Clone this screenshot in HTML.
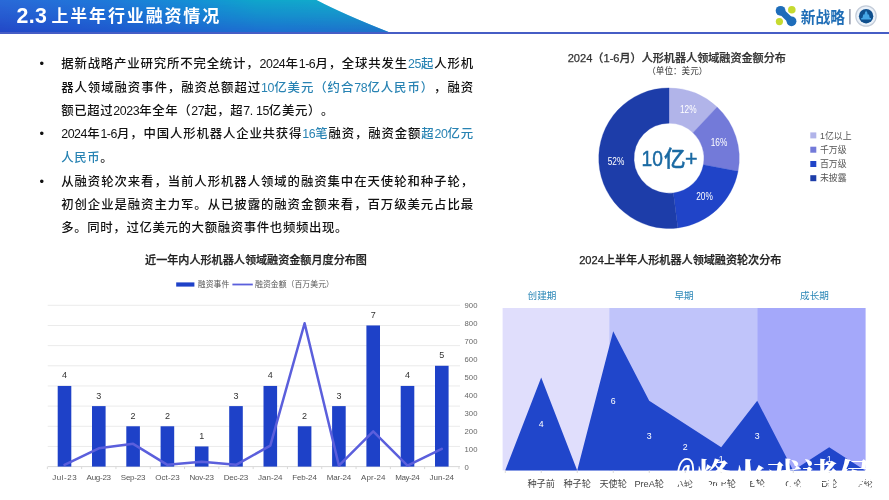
<!DOCTYPE html>
<html lang="zh-CN">
<head>
<meta charset="utf-8">
<title>2.3 上半年行业融资情况</title>
<style>
html,body{margin:0;padding:0;}
body{width:889px;height:500px;position:relative;overflow:hidden;background:#fff;
  font-family:"Liberation Sans","Noto Sans CJK SC",sans-serif;color:#111;}
.abs{position:absolute;}
#banner{left:0;top:0;width:394px;height:33px;
  background:linear-gradient(to right,#2a6ad8 0%,#2078da 25%,#1492d6 50%,#10a6cc 65%,#14aecc 100%);
  clip-path:path("M0 0H316.6Q343 14 391 33H0Z");}
#banner2{left:0;top:0;width:394px;height:33px;
  background:linear-gradient(to right,#2246c6 0%,#2052cc 20%,#1e64d0 50%,#1c6ed0 70%,#1e70c8 100%);
  -webkit-mask-image:linear-gradient(to bottom,rgba(0,0,0,0) 0%,rgba(0,0,0,0.45) 50%,rgba(0,0,0,1) 100%);
  mask-image:linear-gradient(to bottom,rgba(0,0,0,0) 0%,rgba(0,0,0,0.45) 50%,rgba(0,0,0,1) 100%);
  clip-path:path("M0 0H316.6Q343 14 391 33H0Z");}
#hline{left:0;top:32px;width:889px;height:2px;background:#465dc5;}
#title{left:17.4px;top:2px;height:26px;line-height:26px;font-size:17px;font-weight:700;color:#fff;white-space:nowrap;letter-spacing:1.85px;}
#title b{font-size:21.3px;letter-spacing:0.4px;font-weight:700;margin-right:-2.4px;margin-left:-1px;position:relative;top:0.6px;}
.ln{position:absolute;left:61.2px;width:412.6px;height:22px;line-height:22px;font-size:12.4px;letter-spacing:0.65px;font-weight:500;text-spacing-trim:space-all;white-space:nowrap;
  text-align:justify;text-align-last:justify;color:#111;}
.ln.s{text-align-last:left;}
.ln i{font-style:normal;letter-spacing:-0.45px;}
.ln u{text-decoration:none;margin-right:3.2px;}
.hl{color:#2883b3;}
.bu{position:absolute;left:39.5px;width:6px;font-size:13px;line-height:22px;height:22px;color:#111;}
svg{position:absolute;left:0;top:0;}
svg text{font-family:"Liberation Sans","Noto Sans CJK SC",sans-serif;}
#wm .at{display:inline-block;width:20px;transform:scaleX(0.58);transform-origin:0 50%;font-weight:700;position:relative;top:-7px;}
#wm{left:675.5px;top:451px;font-family:"Liberation Serif","Noto Serif CJK SC",serif;font-weight:700;font-size:35.5px;line-height:52px;color:#fff;white-space:nowrap;letter-spacing:0;}
</style>
</head>
<body>
<div id="banner" class="abs"></div>
<div id="banner2" class="abs"></div>
<div id="hline" class="abs"></div>
<div id="title" class="abs"><b>2.3</b> 上半年行业融资情况</div>

<div class="bu" style="top:53px">•</div>
<div class="ln" style="top:53px">据新战略产业研究所不完全统计，<i>2024</i>年<i>1-6</i>月，全球共发生<span class="hl"><i>25</i>起</span>人形机</div>
<div class="ln" style="top:76.6px">器人领域融资事件，融资总额超过<span class="hl"><i>10</i>亿美元（约合<i>78</i>亿人民币）</span>，融资</div>
<div class="ln s" style="top:100px">额已超过<i>2023</i>年全年（<i>27</i>起，超<i>7<u>.</u>15</i>亿美元）。</div>
<div class="bu" style="top:122.5px">•</div>
<div class="ln" style="top:122.5px"><i>2024</i>年<i>1-6</i>月，中国人形机器人企业共获得<span class="hl"><i>16</i>笔</span>融资，融资金额<span class="hl">超<i>20</i>亿元</span></div>
<div class="ln s" style="top:146.7px"><span class="hl">人民币</span>。</div>
<div class="bu" style="top:170.6px">•</div>
<div class="ln" style="top:170.6px">从融资轮次来看，当前人形机器人领域的融资集中在天使轮和种子轮，</div>
<div class="ln" style="top:193.8px">初创企业是融资主力军。从已披露的融资金额来看，百万级美元占比最</div>
<div class="ln s" style="top:217px">多。同时，过亿美元的大额融资事件也频频出现。</div>

<svg width="889" height="500" viewBox="0 0 889 500">
<!-- logo -->
<g id="logo">
  <circle cx="791.8" cy="9.8" r="3.8" fill="#c6da30"/>
  <circle cx="779.4" cy="21.6" r="3.6" fill="#c6da30"/>
  <line x1="780.6" y1="10.8" x2="791.6" y2="21.4" stroke="#1e6dba" stroke-width="6.4" stroke-linecap="round"/>
  <circle cx="780.6" cy="10.8" r="4.9" fill="#1e6dba"/>
  <circle cx="791.5" cy="21.3" r="4.9" fill="#1e6dba"/>
  <text transform="translate(800.8 23.2) scale(1 1.13)" x="0" y="0" font-size="14.6" font-weight="700" fill="#1f6db6" textLength="44.2" lengthAdjust="spacingAndGlyphs">新战略</text>
  <rect x="849.2" y="9" width="1.4" height="15.4" fill="#8c92a6"/>
  <circle cx="866" cy="16" r="10.2" fill="#eaf1f9" stroke="#c3ccd9" stroke-width="1.2"/>
  <circle cx="866.1" cy="16.2" r="7.2" fill="#0f4f8d"/>
  <path d="M861.2 19.6h9.8v-1.5h-1.2l-0.9-3.6h-1.2l-0.6-2.4h-0.5v-1.3h-1v1.3h-0.5l-0.6 2.4h-1.2l-0.9 3.6h-1.2z" fill="#45a6e6"/>
</g>

<!-- donut -->
<g id="donut">
<path d="M669 87.9A70.3 70.3 0 0 1 717.12 106.95L692.96 132.69A35.0 35.0 0 0 0 669 123.2Z" fill="#b1b4e9" stroke="#b1b4e9" stroke-width="0.3"/>
<path d="M717.12 106.95A70.3 70.3 0 0 1 738.05 171.37L703.38 164.76A35.0 35.0 0 0 0 692.96 132.69Z" fill="#737ad9" stroke="#737ad9" stroke-width="0.3"/>
<path d="M738.05 171.37A70.3 70.3 0 0 1 677.81 227.95L673.39 192.92A35.0 35.0 0 0 0 703.38 164.76Z" fill="#2044c8" stroke="#2044c8" stroke-width="0.3"/>
<path d="M677.81 227.95A70.3 70.3 0 1 1 669 87.9L669 123.2A35.0 35.0 0 1 0 673.39 192.92Z" fill="#1d3da9" stroke="#1d3da9" stroke-width="0.3"/>
<text x="680" y="113.3" font-size="11" fill="#fff" textLength="16.6" lengthAdjust="spacingAndGlyphs">12%</text>
<text x="710.7" y="145.6" font-size="11" fill="#fff" textLength="16.6" lengthAdjust="spacingAndGlyphs">16%</text>
<text x="696.2" y="199.7" font-size="11" fill="#fff" textLength="16.6" lengthAdjust="spacingAndGlyphs">20%</text>
<text x="607.7" y="165" font-size="11" fill="#fff" textLength="16.6" lengthAdjust="spacingAndGlyphs">52%</text>
<text y="166.2" font-size="21.5" font-weight="500" fill="#1b6aa3" stroke="#1b6aa3" stroke-width="0.45"><tspan x="641.6" textLength="21.4" lengthAdjust="spacingAndGlyphs">10</tspan><tspan x="663.9">亿</tspan><tspan x="684.9">+</tspan></text>
<text x="676.8" y="62.1" font-size="11.1" font-weight="500" stroke="#333" stroke-width="0.25" fill="#333" text-anchor="middle">2024（1-6月）人形机器人领域融资金额分布</text>
<text x="677.3" y="73.8" font-size="8.6" fill="#333" text-anchor="middle">（单位：美元）</text>
<rect x="810.3" y="132.4" width="6" height="6" fill="#b1b4e9"/>
<text x="820" y="138.6" font-size="8.9" fill="#555">1亿以上</text>
<rect x="810.3" y="146.7" width="6" height="6" fill="#737ad9"/>
<text x="820" y="152.9" font-size="8.9" fill="#555">千万级</text>
<rect x="810.3" y="161" width="6" height="6" fill="#2044c8"/>
<text x="820" y="167.2" font-size="8.9" fill="#555">百万级</text>
<rect x="810.3" y="175.2" width="6" height="6" fill="#1d3da9"/>
<text x="820" y="181.4" font-size="8.9" fill="#555">未披露</text>
</g>
<!-- bar chart -->
<g id="bars">
<rect x="47.7" y="304.8" width="412.3" height="1" fill="#ebebeb"/>
<rect x="47.7" y="324.96" width="412.3" height="1" fill="#ebebeb"/>
<rect x="47.7" y="345.12" width="412.3" height="1" fill="#ebebeb"/>
<rect x="47.7" y="365.29" width="412.3" height="1" fill="#ebebeb"/>
<rect x="47.7" y="385.45" width="412.3" height="1" fill="#ebebeb"/>
<rect x="47.7" y="405.61" width="412.3" height="1" fill="#ebebeb"/>
<rect x="47.7" y="425.78" width="412.3" height="1" fill="#ebebeb"/>
<rect x="47.7" y="445.94" width="412.3" height="1" fill="#ebebeb"/>
<rect x="47.7" y="466.1" width="412.3" height="1" fill="#d9d9d9"/>
<text x="464.6" y="469.5" font-size="7.7" fill="#666">0</text>
<text x="464.6" y="451.58" font-size="7.7" fill="#666">100</text>
<text x="464.6" y="433.66" font-size="7.7" fill="#666">200</text>
<text x="464.6" y="415.73" font-size="7.7" fill="#666">300</text>
<text x="464.6" y="397.81" font-size="7.7" fill="#666">400</text>
<text x="464.6" y="379.89" font-size="7.7" fill="#666">500</text>
<text x="464.6" y="361.97" font-size="7.7" fill="#666">600</text>
<text x="464.6" y="344.04" font-size="7.7" fill="#666">700</text>
<text x="464.6" y="326.12" font-size="7.7" fill="#666">800</text>
<text x="464.6" y="308.2" font-size="7.7" fill="#666">900</text>
<rect x="57.7" y="385.95" width="13.6" height="80.65" fill="#1e41c8"/>
<text x="64.5" y="378.45" font-size="9" fill="#333" text-anchor="middle">4</text>
<text x="64.5" y="480.4" font-size="8" fill="#555" text-anchor="middle" textLength="24.5" lengthAdjust="spacing" font-family="&quot;Liberation Mono&quot;,monospace">Jul-23</text>
<rect x="92" y="406.11" width="13.6" height="60.49" fill="#1e41c8"/>
<text x="98.8" y="398.61" font-size="9" fill="#333" text-anchor="middle">3</text>
<text x="98.8" y="480.4" font-size="8" fill="#555" text-anchor="middle" textLength="24.5" lengthAdjust="spacing" font-family="&quot;Liberation Mono&quot;,monospace">Aug-23</text>
<rect x="126.3" y="426.28" width="13.6" height="40.33" fill="#1e41c8"/>
<text x="133.1" y="418.78" font-size="9" fill="#333" text-anchor="middle">2</text>
<text x="133.1" y="480.4" font-size="8" fill="#555" text-anchor="middle" textLength="24.5" lengthAdjust="spacing" font-family="&quot;Liberation Mono&quot;,monospace">Sep-23</text>
<rect x="160.6" y="426.28" width="13.6" height="40.33" fill="#1e41c8"/>
<text x="167.4" y="418.78" font-size="9" fill="#333" text-anchor="middle">2</text>
<text x="167.4" y="480.4" font-size="8" fill="#555" text-anchor="middle" textLength="24.5" lengthAdjust="spacing" font-family="&quot;Liberation Mono&quot;,monospace">Oct-23</text>
<rect x="194.9" y="446.44" width="13.6" height="20.16" fill="#1e41c8"/>
<text x="201.7" y="438.94" font-size="9" fill="#333" text-anchor="middle">1</text>
<text x="201.7" y="480.4" font-size="8" fill="#555" text-anchor="middle" textLength="24.5" lengthAdjust="spacing" font-family="&quot;Liberation Mono&quot;,monospace">Nov-23</text>
<rect x="229.2" y="406.11" width="13.6" height="60.49" fill="#1e41c8"/>
<text x="236" y="398.61" font-size="9" fill="#333" text-anchor="middle">3</text>
<text x="236" y="480.4" font-size="8" fill="#555" text-anchor="middle" textLength="24.5" lengthAdjust="spacing" font-family="&quot;Liberation Mono&quot;,monospace">Dec-23</text>
<rect x="263.5" y="385.95" width="13.6" height="80.65" fill="#1e41c8"/>
<text x="270.3" y="378.45" font-size="9" fill="#333" text-anchor="middle">4</text>
<text x="270.3" y="480.4" font-size="8" fill="#555" text-anchor="middle" textLength="24.5" lengthAdjust="spacing" font-family="&quot;Liberation Mono&quot;,monospace">Jan-24</text>
<rect x="297.8" y="426.28" width="13.6" height="40.33" fill="#1e41c8"/>
<text x="304.6" y="418.78" font-size="9" fill="#333" text-anchor="middle">2</text>
<text x="304.6" y="480.4" font-size="8" fill="#555" text-anchor="middle" textLength="24.5" lengthAdjust="spacing" font-family="&quot;Liberation Mono&quot;,monospace">Feb-24</text>
<rect x="332.1" y="406.11" width="13.6" height="60.49" fill="#1e41c8"/>
<text x="338.9" y="398.61" font-size="9" fill="#333" text-anchor="middle">3</text>
<text x="338.9" y="480.4" font-size="8" fill="#555" text-anchor="middle" textLength="24.5" lengthAdjust="spacing" font-family="&quot;Liberation Mono&quot;,monospace">Mar-24</text>
<rect x="366.4" y="325.46" width="13.6" height="141.14" fill="#1e41c8"/>
<text x="373.2" y="317.96" font-size="9" fill="#333" text-anchor="middle">7</text>
<text x="373.2" y="480.4" font-size="8" fill="#555" text-anchor="middle" textLength="24.5" lengthAdjust="spacing" font-family="&quot;Liberation Mono&quot;,monospace">Apr-24</text>
<rect x="400.7" y="385.95" width="13.6" height="80.65" fill="#1e41c8"/>
<text x="407.5" y="378.45" font-size="9" fill="#333" text-anchor="middle">4</text>
<text x="407.5" y="480.4" font-size="8" fill="#555" text-anchor="middle" textLength="24.5" lengthAdjust="spacing" font-family="&quot;Liberation Mono&quot;,monospace">May-24</text>
<rect x="435" y="365.79" width="13.6" height="100.81" fill="#1e41c8"/>
<text x="441.8" y="358.29" font-size="9" fill="#333" text-anchor="middle">5</text>
<text x="441.8" y="480.4" font-size="8" fill="#555" text-anchor="middle" textLength="24.5" lengthAdjust="spacing" font-family="&quot;Liberation Mono&quot;,monospace">Jun-24</text>
<rect x="46.85" y="466.6" width="1" height="2.5" fill="#d9d9d9"/>
<rect x="81.15" y="466.6" width="1" height="2.5" fill="#d9d9d9"/>
<rect x="115.45" y="466.6" width="1" height="2.5" fill="#d9d9d9"/>
<rect x="149.75" y="466.6" width="1" height="2.5" fill="#d9d9d9"/>
<rect x="184.05" y="466.6" width="1" height="2.5" fill="#d9d9d9"/>
<rect x="218.35" y="466.6" width="1" height="2.5" fill="#d9d9d9"/>
<rect x="252.65" y="466.6" width="1" height="2.5" fill="#d9d9d9"/>
<rect x="286.95" y="466.6" width="1" height="2.5" fill="#d9d9d9"/>
<rect x="321.25" y="466.6" width="1" height="2.5" fill="#d9d9d9"/>
<rect x="355.55" y="466.6" width="1" height="2.5" fill="#d9d9d9"/>
<rect x="389.85" y="466.6" width="1" height="2.5" fill="#d9d9d9"/>
<rect x="424.15" y="466.6" width="1" height="2.5" fill="#d9d9d9"/>
<rect x="458.45" y="466.6" width="1" height="2.5" fill="#d9d9d9"/>
<path d="M64.5 464.81L98.8 448.32L133.1 443.84L167.4 464.81L201.7 461.76L236 464.81L270.3 445.63L304.6 323.22L338.9 465.52L373.2 431.29L407.5 465.7L441.8 448.86" fill="none" stroke="#5b5fdc" stroke-width="2.5" stroke-linejoin="round" stroke-linecap="round"/>
<text x="256" y="263.5" font-size="11.1" font-weight="500" stroke="#222" stroke-width="0.25" fill="#222" text-anchor="middle">近一年内人形机器人领域融资金额月度分布图</text>
<rect x="176.2" y="282.4" width="18.2" height="4.2" fill="#1e41c8"/>
<text x="197.8" y="287.4" font-size="7.9" fill="#555">融资事件</text>
<rect x="232.4" y="283.6" width="20.4" height="1.8" fill="#5b5fdc"/>
<text x="255" y="287.4" font-size="7.9" fill="#555">融资金额（百万美元）</text>
</g>
<!-- area chart -->
<g id="area">
<rect x="502.6" y="308.0" width="106.6" height="162.4" fill="#e0defc"/>
<rect x="609.2" y="308.0" width="148" height="162.4" fill="#c0c4fa"/>
<rect x="757.2" y="308.0" width="108.4" height="162.4" fill="#a4a8fa"/>
<path d="M505.2 470.4L505.2 470.4L541.2 377.6L577.2 470.4L613.2 331.2L649.2 400.8L685.2 424L721.2 447.2L757.2 400.8L793.2 470.4L829.2 447.2L865.2 470.4L865.2 470.4Z" fill="#2046cb"/>
<rect x="504.8" y="470.4" width="0.8" height="2.6" fill="#d0d0d0"/>
<rect x="540.8" y="470.4" width="0.8" height="2.6" fill="#d0d0d0"/>
<text x="541.2" y="486.8" font-size="9.2" fill="#444" text-anchor="middle">种子前</text>
<text x="541.2" y="427.2" font-size="8.8" fill="#fff" text-anchor="middle">4</text>
<rect x="576.8" y="470.4" width="0.8" height="2.6" fill="#d0d0d0"/>
<text x="577.2" y="486.8" font-size="9.2" fill="#444" text-anchor="middle">种子轮</text>
<rect x="612.8" y="470.4" width="0.8" height="2.6" fill="#d0d0d0"/>
<text x="613.2" y="486.8" font-size="9.2" fill="#444" text-anchor="middle">天使轮</text>
<text x="613.2" y="404" font-size="8.8" fill="#fff" text-anchor="middle">6</text>
<rect x="648.8" y="470.4" width="0.8" height="2.6" fill="#d0d0d0"/>
<text x="649.2" y="486.8" font-size="9.2" fill="#444" text-anchor="middle">PreA轮</text>
<text x="649.2" y="438.8" font-size="8.8" fill="#fff" text-anchor="middle">3</text>
<rect x="684.8" y="470.4" width="0.8" height="2.6" fill="#d0d0d0"/>
<text x="685.2" y="486.8" font-size="9.2" fill="#444" text-anchor="middle">A轮</text>
<text x="685.2" y="450.4" font-size="8.8" fill="#fff" text-anchor="middle">2</text>
<rect x="720.8" y="470.4" width="0.8" height="2.6" fill="#d0d0d0"/>
<text x="721.2" y="486.8" font-size="9.2" fill="#444" text-anchor="middle">PreB轮</text>
<text x="721.2" y="462" font-size="8.8" fill="#fff" text-anchor="middle">1</text>
<rect x="756.8" y="470.4" width="0.8" height="2.6" fill="#d0d0d0"/>
<text x="757.2" y="486.8" font-size="9.2" fill="#444" text-anchor="middle">B轮</text>
<text x="757.2" y="438.8" font-size="8.8" fill="#fff" text-anchor="middle">3</text>
<rect x="792.8" y="470.4" width="0.8" height="2.6" fill="#d0d0d0"/>
<text x="793.2" y="486.8" font-size="9.2" fill="#444" text-anchor="middle">C轮</text>
<rect x="828.8" y="470.4" width="0.8" height="2.6" fill="#d0d0d0"/>
<text x="829.2" y="486.8" font-size="9.2" fill="#444" text-anchor="middle">D轮</text>
<text x="829.2" y="462" font-size="8.8" fill="#fff" text-anchor="middle">1</text>
<rect x="864.8" y="470.4" width="0.8" height="2.6" fill="#d0d0d0"/>
<text x="865.2" y="486.8" font-size="9.2" fill="#444" text-anchor="middle">F轮</text>
<text x="680.3" y="263.6" font-size="11.1" font-weight="500" stroke="#222" stroke-width="0.25" fill="#222" text-anchor="middle">2024上半年人形机器人领域融资轮次分布</text>
<text x="542" y="299.2" font-size="9.6" fill="#2a86b6" text-anchor="middle">创建期</text>
<text x="684" y="299.2" font-size="9.6" fill="#2a86b6" text-anchor="middle">早期</text>
<text x="814.5" y="299.2" font-size="9.6" fill="#2a86b6" text-anchor="middle">成长期</text>
</g>
</svg>
<div id="wm" class="abs"><span class="at">@</span>烽火戏诸侯</div>
</body>
</html>
